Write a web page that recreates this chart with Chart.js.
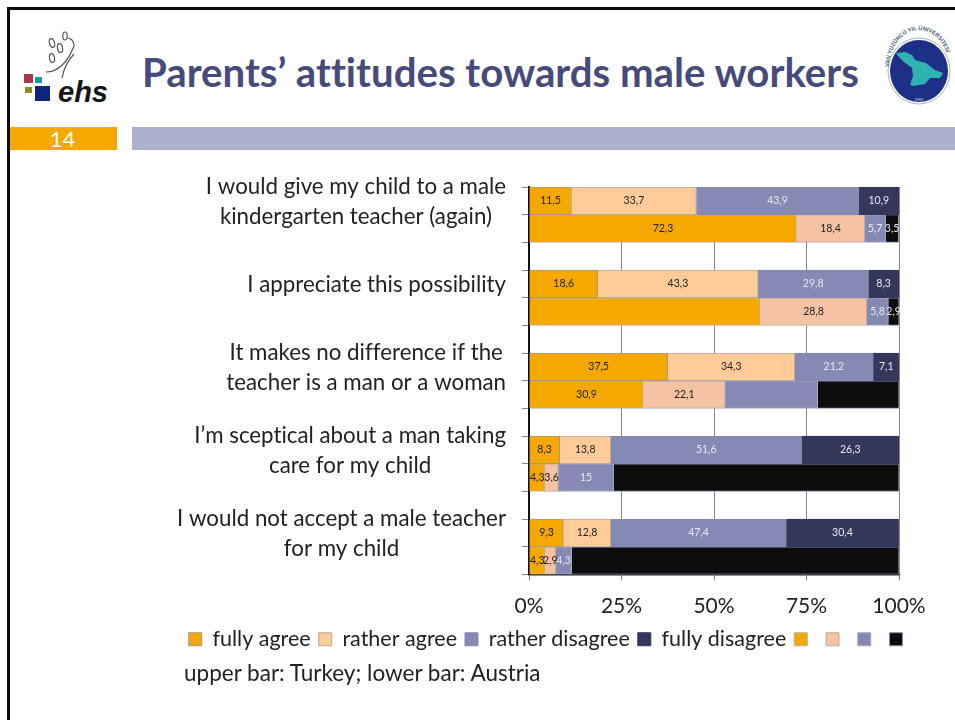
<!DOCTYPE html>
<html>
<head>
<meta charset="utf-8">
<title>Parents' attitudes towards male workers</title>
<script src="https://cdn.jsdelivr.net/npm/chart.js"></script>
<style>
  body { margin: 0; width: 955px; height: 720px; overflow: hidden; background: #fff; font-family: Lato, sans-serif; font-variant-ligatures: none; position: relative; }
  .abs { position: absolute; }
  #frame { left: 7px; top: 7px; width: 960px; height: 730px; border: 3px solid #0a0a0a; box-sizing: border-box; }
  #title { left: 142px; top: 47px; font-size: 40.2px; font-weight: 700; color: #474b7b; white-space: nowrap; }
  #pageNum { left: 10px; top: 127px; width: 105px; height: 23px; padding-right: 2px; background: #f5a800; color: #fff; font-size: 22px; line-height: 23px; text-align: center; }
  #strip { left: 132px; top: 127px; width: 823px; height: 23px; background: #adb1d0; }
  #note { left: 184px; top: 659px; font-size: 22.5px; color: #222; white-space: nowrap; }
  #chartBox { left: 147px; top: 170px; }
</style>
</head>
<body>
<div class="abs" id="frame"></div>

<!-- ehs logo -->
<svg class="abs" style="left:15px;top:25px" width="100" height="85" viewBox="15 25 100 85">
  <g fill="none" stroke="#555" stroke-width="1.2">
    <ellipse cx="52" cy="43" rx="2.5" ry="4.5" transform="rotate(-15 52 43)"/>
    <ellipse cx="60" cy="48" rx="2.5" ry="4.5" transform="rotate(-10 60 48)"/>
    <ellipse cx="65" cy="36" rx="2.2" ry="4"/>
    <ellipse cx="52" cy="58" rx="2.5" ry="4.5" transform="rotate(-10 52 58)"/>
    <path d="M46 72 C58 72 68 62 74 46 C74 40 70 38 68 38"/>
    <path d="M62 78 C64 68 68 60 74 54"/>
  </g>
  <rect x="24" y="74" width="9" height="9" fill="#a8384f"/>
  <rect x="35" y="77" width="7" height="6" fill="#179c9c"/>
  <rect x="25" y="87" width="7" height="6" fill="#8a8a2a"/>
  <rect x="35" y="86" width="15" height="15" fill="#12237a"/>
  <text x="58" y="102" font-family="Liberation Sans" font-weight="700" font-style="italic" font-size="29" fill="#151515">ehs</text>
</svg>

<!-- university emblem -->
<svg class="abs" style="left:880px;top:22px" width="75" height="90" viewBox="880 22 75 90">
  <defs><path id="ring" d="M889 68 A30 38 0 0 1 949 68"/></defs>
  <ellipse cx="919" cy="71" rx="29" ry="31" fill="#1d2f86"/>
  <ellipse cx="919" cy="71" rx="31" ry="33" fill="none" stroke="#8fa0b0" stroke-width="0.8"/>
  <text font-size="5.6" font-family="Liberation Sans" font-weight="700" fill="#4a5878"><textPath href="#ring" startOffset="1">VAN YÜZÜNCÜ YIL ÜNİVERSİTESİ</textPath></text>
  <path d="M896 53 L905 52 L912 55 L915 60 L926 63 L935 70 L943 73 L940 78 L930 78 L925 84 L914 86 L910 85 L913 76 L912 68 L904 62 L899 57 Z" fill="#2fb3b0"/>
  <text x="919" y="101" font-size="4" font-family="Liberation Sans" text-anchor="middle" fill="#ddd">1981</text>
</svg>

<div class="abs" id="title">Parents’ attitudes towards male workers</div>
<div class="abs" id="pageNum">14</div>
<div class="abs" id="strip"></div>

<div class="abs" id="chartBox"><canvas id="barChart" width="808" height="490"></canvas></div>
<div class="abs" id="note">upper bar: Turkey; lower bar: Austria</div>

<script>
// statements, top to bottom
const categories = [
    ['I would give my child to a male', 'kindergarten teacher (again)'],
    ['I appreciate this possibility'],
    ['It makes no difference if the', 'teacher is a man or a woman'],
    ['I’m sceptical about a man taking', 'care for my child'],
    ['I would not accept a male teacher', 'for my child']
];
const seriesNames = ['fully agree', 'rather agree', 'rather disagree', 'fully disagree'];
const tickLabels = [0, 25, 50, 75, 100];

// upper bar
const turkeyFullyAgree = [11.5, 18.6, 37.5, 8.3, 9.3];
const turkeyRatherAgree = [33.7, 43.3, 34.3, 13.8, 12.8];
const turkeyRatherDisagree = [43.9, 29.8, 21.2, 51.6, 47.4];
const turkeyFullyDisagree = [10.9, 8.3, 7.1, 26.3, 30.4];

// lower bar, some values have no printed label in the picture
const austriaFullyAgree = [72.3, 62.5, 30.9, 4.3, 4.3];
const austriaRatherAgree = [18.4, 28.8, 22.1, 3.6, 2.9];
const austriaRatherDisagree = [5.7, 5.8, 25, 15, 4.3];
const austriaFullyDisagree = [3.5, 2.9, 22, 77.1, 88.5];
const unprintedAgree = [1];
const unprintedDisagree = [2];
const unprintedFully = [2, 3, 4];

// Every statement takes a Turkey row and an Austria row, with an empty row in between
const rowLabels = [];
categories.forEach((c, i) => {
    rowLabels.push(c.join(' ') + ' (Turkey)', c.join(' ') + ' (Austria)');
    if (i < categories.length - 1) rowLabels.push('');
});

function upperRows(values) {
    return values.flatMap((v, i) => i < values.length - 1 ? [v, null, null] : [v, null]);
}
function lowerRows(values) {
    return values.flatMap((v, i) => i < values.length - 1 ? [null, v, null] : [null, v]);
}

function makeSet(label, rows, fill, edge, textColor, unprinted) {
    return {
        label: label,
        data: rows,
        backgroundColor: fill,
        borderColor: edge,
        borderWidth: 1,
        textColor: textColor,
        unprinted: unprinted || [],
        barPercentage: 1,
        categoryPercentage: 1
    };
}

const datasets = [
    makeSet(seriesNames[0], upperRows(turkeyFullyAgree), '#f5a800', '#a09a8c', '#222'),
    makeSet(seriesNames[1], upperRows(turkeyRatherAgree), '#ffcc99', '#b5aca0', '#222'),
    makeSet(seriesNames[2], upperRows(turkeyRatherDisagree), '#8789b5', '#8789b5', '#e8e8f0'),
    makeSet(seriesNames[3], upperRows(turkeyFullyDisagree), '#35375c', '#35375c', '#e8e8f0'),
    makeSet('', lowerRows(austriaFullyAgree), '#f5a800', '#b8b0a0', '#222', unprintedAgree),
    makeSet('', lowerRows(austriaRatherAgree), '#f6c2a4', '#b5aca0', '#222'),
    makeSet('', lowerRows(austriaRatherDisagree), '#8789b5', '#a5a7c8', '#e8e8f0', unprintedDisagree),
    makeSet('', lowerRows(austriaFullyDisagree), '#0d0d0d', '#8789b5', '#e8e8f0', unprintedFully)
];

// Value labels, decimal comma as in the source
const valueLabels = {
    id: 'valueLabels',
    afterDatasetsDraw(chart) {
        const c = chart.ctx;
        c.save();
        c.font = '10.5px Lato';
        c.textAlign = 'center';
        c.textBaseline = 'middle';
        chart.data.datasets.forEach((ds, d) => {
            chart.getDatasetMeta(d).data.forEach((bar, i) => {
                const v = ds.data[i];
                if (v === null) return;
                const group = Math.floor((i + 1) / 3);
                if (ds.unprinted.includes(group)) return;
                c.fillStyle = ds.textColor;
                c.fillText(String(v).replace('.', ','), (bar.x + bar.base) / 2, bar.y);
            });
        });
        c.restore();
    }
};

// Statement text: lines centred on each other, block flush right against the axis
const statementLabels = {
    id: 'statementLabels',
    afterDraw(chart) {
        const c = chart.ctx;
        const y = chart.scales.y;
        c.save();
        c.font = '22.3px Lato';
        c.textRendering = 'optimizeSpeed'; // no tt/ff ligatures
        c.fillStyle = '#222';
        c.textAlign = 'center';
        c.textBaseline = 'middle';
        categories.forEach((lines, i) => {
            const w = Math.max(...lines.map(l => c.measureText(l).width));
            const mid = chart.chartArea.left - 23 - w / 2;
            const top = y.getPixelForValue(i * 3) - (lines.length - 1) * 14.7 + 1;
            lines.forEach((l, n) => c.fillText(l, mid, top + n * 29.4));
        });
        c.restore();
    }
};

new Chart(document.getElementById('barChart'), {
    type: 'bar',
    data: { labels: rowLabels, datasets: datasets },
    plugins: [valueLabels, statementLabels],
    options: {
        indexAxis: 'y',
        responsive: false,
        animation: false,
        layout: { padding: { top: 17 } },
        scales: {
            x: {
                stacked: true,
                min: 0,
                max: 100,
                afterBuildTicks: axis => { axis.ticks = tickLabels.map(v => ({ value: v })); },
                afterFit: axis => { axis.height = 46; },
                ticks: {
                    callback: v => v + '%',
                    color: '#222',
                    font: { family: 'Lato', size: 21 },
                    maxRotation: 0,
                    padding: 13
                },
                border: { color: '#222', width: 1.5 },
                grid: { color: '#868686', tickLength: 6 }
            },
            y: {
                stacked: true,
                afterFit: axis => { axis.width = 382; },
                ticks: { display: false },
                border: { color: '#111', width: 2 },
                grid: { drawOnChartArea: false, color: '#868686', tickLength: 7 }
            },
            // empty axis, only keeps the room to the right of the plot while the legend stays centred on the canvas
            spacer: {
                type: 'category',
                position: 'right',
                afterFit: axis => { axis.width = 56; },
                ticks: { display: false },
                border: { display: false },
                grid: { display: false }
            }
        },
        plugins: {
            tooltip: { enabled: false },
            legend: {
                position: 'bottom',
                labels: {
                    boxWidth: 13,
                    boxHeight: 13,
                    padding: 8,
                    color: '#222',
                    font: { family: 'Lato', size: 21.5 }
                }
            }
        }
    }
});
</script>
</body>
</html>
